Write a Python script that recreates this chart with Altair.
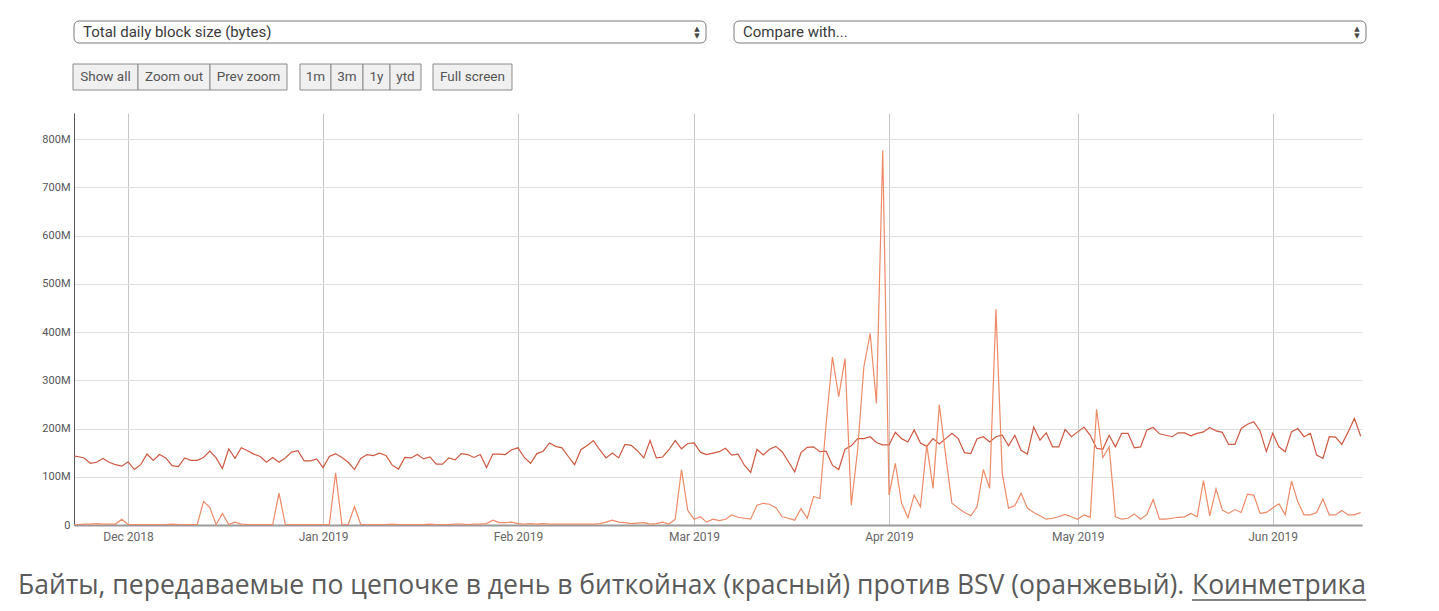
import altair as alt
import pandas as pd

# ---------------- data (daily, starting 2018-11-22), values in millions of bytes
START = "2018-11-22"

btc = [
    143, 142, 139, 128, 130, 138, 130, 125, 122, 131,
    115, 125, 147, 134, 146, 139, 123, 121, 139, 134,
    134, 140, 153, 139, 117, 158, 138, 160, 154, 147,
    142, 130, 140, 130,
    139, 151, 154, 133, 133, 137, 119, 142, 148, 140,
    130, 115, 138, 146, 144, 149, 144, 124, 116, 140,
    139, 146, 137, 141, 126, 126, 139, 135, 148, 146,
    140, 146, 119, 147, 147,
    146, 156, 160, 140, 128, 148, 153, 170, 163, 160,
    142, 125, 156, 165, 175, 156, 139, 149, 139, 167,
    165, 154, 139, 175, 139, 141, 156, 175, 158, 169,
    170, 151, 146, 149,
    152, 159, 145, 147, 124, 109, 157, 145, 157, 163,
    152, 131, 110, 150, 161, 162, 152, 153, 124, 115,
    157, 164, 179, 179, 183, 171, 166, 166, 192, 179,
    172, 197, 170, 163, 179,
    168, 179, 190, 179, 150, 148, 179, 183, 172, 183,
    186, 164, 186, 155, 147, 203, 176, 191, 162, 162,
    198, 183, 193, 203, 186, 159, 157, 186, 162, 190,
    190, 160, 162, 197, 202, 189, 186, 183, 191, 191,
    185, 190, 193, 202, 195, 192, 167, 167, 200, 209,
    214, 195, 152, 190, 162, 152, 193, 200, 183, 190,
    145, 138, 183, 182, 167, 193, 221, 184,
]

bsv = [
    1, 1, 2, 2, 3, 2, 2, 2, 12, 1, 1, 1, 1, 1, 1, 1, 2, 1, 1, 1, 1,
    49, 36, 1, 24, 1, 6, 2, 1, 1, 1, 1, 1, 66, 1,
    1, 1, 1, 1, 1, 1, 1,
    108, 1, 1, 38, 1,
    1, 1, 1, 1, 2, 1, 1, 1, 1, 1, 2, 1, 1, 1, 2, 2, 1, 2, 2, 3,
    10, 5, 5,
    6, 3, 2, 3, 2, 3, 2, 2, 2, 2, 2, 2, 2, 2, 3, 6,
    10, 6, 5, 3, 4, 5, 2, 3, 6, 2, 12, 115, 30, 12, 17, 6, 12, 9,
    12, 21, 16, 14, 12, 41, 45, 43, 36, 17, 14, 10, 34, 14, 59, 55, 210, 348,
    266, 345, 41, 155, 328, 397, 252, 776, 62, 128, 45, 15, 62, 38, 166, 76,
    249, 145,
    45, 35, 26, 19, 38, 115, 76, 447, 107, 35,
    40, 66, 35, 26, 19, 12, 14, 17, 22, 17,
    12, 21, 16, 240, 140, 162, 17, 12, 14, 23,
    12, 22, 53, 12, 12, 14, 16, 17, 24, 17,
    92, 19, 75, 31, 24, 32, 26, 64, 62, 24,
    26, 35, 44, 21, 91, 48, 21, 21, 26, 54,
    21, 21, 30, 21, 21, 26,
]

y_ticks = [0, 100, 200, 300, 400, 500, 600, 700, 800]
month_ticks = [(2018, 12), (2019, 1), (2019, 2), (2019, 3), (2019, 4), (2019, 5), (2019, 6)]

metric_label = "Total daily block size (bytes)"
compare_label = "Compare with..."
button_groups = [["Show all", "Zoom out", "Prev zoom"], ["1m", "3m", "1y", "ytd"], ["Full screen"]]
caption_main = "Байты, передаваемые по цепочке в день в биткойнах (красный) против BSV (оранжевый)."
caption_link = "Коинметрика"

# ---------------- layout / style
W, H = 1288, 412
RED = "#cf5841"
ORANGE = "#ee8a66"
FONT = "Roboto"
CAP_FONT = "Open Sans"


def frame(values):
    d = pd.date_range(START, periods=len(values), freq="D").strftime("%Y-%m-%d")
    return pd.DataFrame({"date": d, "value": values})


x_enc = alt.X(
    "date:T",
    scale=alt.Scale(
        type="utc",
        domain=[
            alt.DateTime(year=2018, month=11, date=22, hours=9, minutes=36, utc=True),
            alt.DateTime(year=2019, month=6, date=15, hours=5, utc=True),
        ],
    ),
    axis=alt.Axis(
        values=[alt.DateTime(year=y, month=m, date=1, utc=True) for y, m in month_ticks],
        format="%b %Y",
        title=None,
        grid=True,
        gridColor="#c6c6c6",
        gridWidth=1,
        domainColor="#9a9a9a",
        domainWidth=2,
        ticks=False,
        labelFont=FONT,
        labelFontSize=12,
        labelColor="#666666",
        labelPadding=6,
    ),
)
y_enc = alt.Y(
    "value:Q",
    scale=alt.Scale(domain=[0, 854], nice=False),
    axis=alt.Axis(
        values=y_ticks,
        labelExpr="datum.value == 0 ? '0' : datum.value + 'M'",
        title=None,
        grid=True,
        gridColor="#dedede",
        domainColor="#555555",
        domainWidth=1,
        ticks=False,
        labelFont=FONT,
        labelFontSize=11,
        labelColor="#555555",
        labelPadding=4,
    ),
)

red_line = alt.Chart(frame(btc)).mark_line(color=RED, strokeWidth=1.2, clip=True).encode(x=x_enc, y=y_enc)
orange_line = alt.Chart(frame(bsv)).mark_line(color=ORANGE, strokeWidth=1.2, clip=True).encode(
    x="date:T", y="value:Q"
)

one = pd.DataFrame({"k": [0]})


def box(x0, x1, y0, y1, fill, stroke, radius=0):
    return alt.Chart(one).mark_rect(fill=fill, stroke=stroke, strokeWidth=1, cornerRadius=radius).encode(
        x=alt.value(x0), x2=alt.value(x1), y=alt.value(y0), y2=alt.value(y1)
    )


def label(text, x, y, size, color, align="left", font=FONT, baseline="middle"):
    return alt.Chart(one).mark_text(
        text=text, align=align, baseline=baseline, fontSize=size, color=color, font=font
    ).encode(x=alt.value(x), y=alt.value(y))


def rule(x0, x1, y, color, width=1):
    return alt.Chart(one).mark_rule(color=color, strokeWidth=width).encode(
        x=alt.value(x0), x2=alt.value(x1), y=alt.value(y)
    )


deco = []
# select boxes
for (x0, x1, txt) in [(0, 632, metric_label), (660, 1292, compare_label)]:
    deco.append(box(x0, x1, -92, -70, "#ffffff", "#7a7a7a", 5))
    deco.append(label(txt, x0 + 9, -81, 15, "#3a3a3a"))
    deco.append(label("▲", x1 - 9, -84.5, 7, "#444444", align="center", font="DejaVu Sans"))
    deco.append(label("▼", x1 - 9, -77.5, 7, "#444444", align="center", font="DejaVu Sans"))

# buttons
button_edges = [[-1, 64, 136, 213], [226, 257, 289, 316, 347], [359, 438]]
for names, edges in zip(button_groups, button_edges):
    for i, nm in enumerate(names):
        x0, x1 = edges[i], edges[i + 1]
        deco.append(box(x0, x1, -49, -23, "#f0f0f0", "#8a8a8a"))
        deco.append(label(nm, (x0 + x1) / 2, -36, 13.5, "#555555", align="center"))

# caption
deco.append(label(caption_main, -56, 481, 26.5, "#5a5a5a", font=CAP_FONT, baseline="alphabetic"))
deco.append(label(caption_link, 1292, 481, 26.5, "#5a5a5a", align="right", font=CAP_FONT, baseline="alphabetic"))
deco.append(rule(1118, 1292, 487, "#5a5a5a", 1.5))

chart = (
    alt.layer(red_line, orange_line, *deco)
    .properties(
        width=W,
        height=H,
        autosize=alt.AutoSizeParams(type="none"),
        padding={"left": 66, "top": 105, "right": 69, "bottom": 78},
    )
    .configure_view(stroke=None)
)

chart.save("out.html", embed_options={"renderer": "svg", "actions": False})
